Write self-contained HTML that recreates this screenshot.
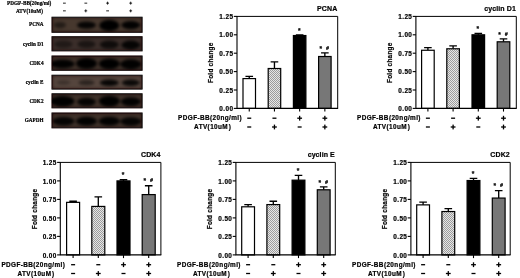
<!DOCTYPE html><html><head><meta charset="utf-8"><title>Figure</title><style>html,body{margin:0;padding:0;background:#fff}svg{display:block}text{font-family:"Liberation Sans",sans-serif;font-weight:bold;fill:#000;stroke:#000;stroke-width:0.2px}.s{font-family:"Liberation Serif",serif;font-weight:bold}</style></head><body>
<svg width="520" height="278" viewBox="0 0 520 278">
<defs>
<filter id="b1" x="-30%" y="-30%" width="160%" height="160%"><feGaussianBlur stdDeviation="1.6"/></filter>
<filter id="b2" x="-5%" y="-5%" width="110%" height="110%"><feGaussianBlur stdDeviation="0.35"/></filter>
<filter id="b3" x="-5%" y="-5%" width="110%" height="110%"><feGaussianBlur stdDeviation="0.28"/></filter>
<pattern id="hat" width="2" height="2" patternUnits="userSpaceOnUse"><rect width="2" height="2" fill="#e6e6e6"/><rect width="1" height="1" fill="#9c9c9c"/><rect x="1" y="1" width="1" height="1" fill="#9c9c9c"/></pattern>
</defs>
<rect width="520" height="278" fill="#fff"/>
<g filter="url(#b2)">
<rect x="52.0" y="17.2" width="90.1" height="15.1" fill="#46382f" stroke="#120c0b" stroke-width="1"/>
<rect x="52.0" y="36.7" width="90.1" height="14.2" fill="#3a2d2a" stroke="#120c0b" stroke-width="1"/>
<rect x="52.0" y="56.0" width="90.1" height="14.3" fill="#3f312c" stroke="#120c0b" stroke-width="1"/>
<rect x="52.0" y="75.2" width="90.1" height="13.9" fill="#54443d" stroke="#120c0b" stroke-width="1"/>
<rect x="52.0" y="93.8" width="90.1" height="14.1" fill="#3f312c" stroke="#120c0b" stroke-width="1"/>
<rect x="52.0" y="113.0" width="90.1" height="14.9" fill="#3f312c" stroke="#120c0b" stroke-width="1"/>
</g>
<clipPath id="c0"><rect x="51.8" y="17.0" width="90.5" height="15.5"/></clipPath>
<g clip-path="url(#c0)"><g filter="url(#b1)">
<rect x="48.5" y="13.7" width="97.1" height="22.1" fill="none" stroke="#1a1110" stroke-width="8" opacity="0.75"/>
<ellipse cx="60.0" cy="25.1" rx="6" ry="3.2" fill="#050303" opacity="0.5"/>
<ellipse cx="86.5" cy="25.1" rx="9.5" ry="3.6" fill="#050303" opacity="0.92"/>
<ellipse cx="109.3" cy="25.4" rx="10" ry="5.6" fill="#050303" opacity="1"/>
<ellipse cx="130.8" cy="25.1" rx="9.5" ry="4.2" fill="#050303" opacity="0.97"/>
</g></g>
<clipPath id="c1"><rect x="51.8" y="36.5" width="90.5" height="14.6"/></clipPath>
<g clip-path="url(#c1)"><g filter="url(#b1)">
<rect x="48.5" y="33.2" width="97.1" height="21.2" fill="none" stroke="#1a1110" stroke-width="8" opacity="0.75"/>
<ellipse cx="63.5" cy="44.3" rx="9" ry="3.8" fill="#050303" opacity="0.45"/>
<ellipse cx="86.5" cy="44.3" rx="9" ry="3.8" fill="#050303" opacity="0.55"/>
<ellipse cx="109.3" cy="44.6" rx="9.5" ry="4" fill="#050303" opacity="0.75"/>
<ellipse cx="130.8" cy="45.0" rx="9.5" ry="4.4" fill="#050303" opacity="0.9"/>
</g></g>
<clipPath id="c2"><rect x="51.8" y="55.8" width="90.5" height="14.7"/></clipPath>
<g clip-path="url(#c2)"><g filter="url(#b1)">
<rect x="48.5" y="52.5" width="97.1" height="21.3" fill="none" stroke="#1a1110" stroke-width="8" opacity="0.75"/>
<ellipse cx="62.5" cy="63.9" rx="12" ry="4.4" fill="#050303" opacity="0.97"/>
<ellipse cx="86.5" cy="63.4" rx="10.5" ry="5.4" fill="#050303" opacity="1"/>
<ellipse cx="109.3" cy="63.8" rx="10.5" ry="5.2" fill="#050303" opacity="1"/>
<ellipse cx="130.8" cy="64.2" rx="10.5" ry="5" fill="#050303" opacity="0.97"/>
</g></g>
<clipPath id="c3"><rect x="51.8" y="75.0" width="90.5" height="14.3"/></clipPath>
<g clip-path="url(#c3)"><g filter="url(#b1)">
<rect x="48.5" y="71.7" width="97.1" height="20.9" fill="none" stroke="#1a1110" stroke-width="8" opacity="0.75"/>
<ellipse cx="63.5" cy="82.5" rx="7" ry="2.2" fill="#050303" opacity="0.3"/>
<ellipse cx="86.5" cy="82.7" rx="8" ry="2.6" fill="#050303" opacity="0.5"/>
<ellipse cx="109.3" cy="82.7" rx="9.5" ry="3.2" fill="#050303" opacity="0.92"/>
<ellipse cx="130.8" cy="82.7" rx="9" ry="3.2" fill="#050303" opacity="0.88"/>
</g></g>
<clipPath id="c4"><rect x="51.8" y="93.6" width="90.5" height="14.5"/></clipPath>
<g clip-path="url(#c4)"><g filter="url(#b1)">
<rect x="48.5" y="90.3" width="97.1" height="21.1" fill="none" stroke="#1a1110" stroke-width="8" opacity="0.75"/>
<ellipse cx="62.5" cy="101.3" rx="12" ry="5.2" fill="#050303" opacity="1"/>
<ellipse cx="86.5" cy="101.8" rx="9.5" ry="4" fill="#050303" opacity="0.92"/>
<ellipse cx="109.3" cy="101.1" rx="10.5" ry="5.4" fill="#050303" opacity="1"/>
<ellipse cx="130.8" cy="101.6" rx="10" ry="4.4" fill="#050303" opacity="0.97"/>
</g></g>
<clipPath id="c5"><rect x="51.8" y="112.8" width="90.5" height="15.3"/></clipPath>
<g clip-path="url(#c5)"><g filter="url(#b1)">
<rect x="48.5" y="109.5" width="97.1" height="21.9" fill="none" stroke="#1a1110" stroke-width="8" opacity="0.75"/>
<ellipse cx="63.5" cy="121.2" rx="11" ry="4.2" fill="#050303" opacity="0.92"/>
<ellipse cx="86.5" cy="121.2" rx="10.5" ry="4.4" fill="#050303" opacity="0.97"/>
<ellipse cx="109.3" cy="121.2" rx="10.5" ry="4.4" fill="#050303" opacity="0.97"/>
<ellipse cx="130.8" cy="121.5" rx="10.5" ry="4.2" fill="#050303" opacity="0.92"/>
</g></g>
<g filter="url(#b3)" style="stroke:#000;stroke-width:0.5">
<text class="s" x="43.5" y="26.4" font-size="5.2" text-anchor="end">PCNA</text>
<text class="s" x="43.5" y="45.5" font-size="5.2" text-anchor="end">cyclin D1</text>
<text class="s" x="43.5" y="64.8" font-size="5.2" text-anchor="end">CDK4</text>
<text class="s" x="43.5" y="83.9" font-size="5.2" text-anchor="end">cyclin E</text>
<text class="s" x="43.5" y="102.5" font-size="5.2" text-anchor="end">CDK2</text>
<text class="s" x="43.5" y="122.2" font-size="5.2" text-anchor="end">GAPDH</text>
<text class="s" x="51.2" y="4.7" font-size="5.2" text-anchor="end">PDGF-BB(20ng/ml)</text>
<text class="s" x="42.9" y="12.9" font-size="5.2" text-anchor="end">ATV(10uM)</text>
<rect x="63.00000000000001" y="2.7" width="2.8" height="0.9" fill="#111" stroke="none"/>
<rect x="63.00000000000001" y="10.4" width="2.8" height="0.9" fill="#111" stroke="none"/>
<rect x="84.39999999999999" y="2.7" width="2.8" height="0.9" fill="#111" stroke="none"/>
<rect x="84.39999999999999" y="10.4" width="2.8" height="0.9" fill="#111" stroke="none"/>
<rect x="85.35" y="9.4" width="0.9" height="2.9" fill="#111" stroke="none"/>
<rect x="106.19999999999999" y="2.7" width="2.8" height="0.9" fill="#111" stroke="none"/>
<rect x="107.14999999999999" y="1.7000000000000002" width="0.9" height="2.9" fill="#111" stroke="none"/>
<rect x="106.19999999999999" y="10.4" width="2.8" height="0.9" fill="#111" stroke="none"/>
<rect x="129.29999999999998" y="2.7" width="2.8" height="0.9" fill="#111" stroke="none"/>
<rect x="130.25" y="1.7000000000000002" width="0.9" height="2.9" fill="#111" stroke="none"/>
<rect x="129.29999999999998" y="10.4" width="2.8" height="0.9" fill="#111" stroke="none"/>
<rect x="130.25" y="9.4" width="0.9" height="2.9" fill="#111" stroke="none"/>
</g>
<path d="M237,16.4 H337.7 V108.4" fill="none" stroke="#000" stroke-width="1"/>
<path d="M249.25,78.59 V76.38 M245.45,76.38 H253.05" stroke="#000" stroke-width="1.35" fill="none"/>
<rect x="243.00" y="78.59" width="12.5" height="29.81" fill="#fff" stroke="#000" stroke-width="1.2"/>
<path d="M249.25,108.4 v3.2" stroke="#000" stroke-width="1.1"/>
<path d="M274.45,68.51 V61.88 M270.65,61.88 H278.25" stroke="#000" stroke-width="1.35" fill="none"/>
<rect x="268.20" y="68.51" width="12.5" height="39.89" fill="url(#hat)" stroke="#000" stroke-width="1.2"/>
<path d="M274.45,108.4 v3.2" stroke="#000" stroke-width="1.1"/>
<path d="M299.65,35.54 V34.95 M295.85,34.95 H303.45" stroke="#000" stroke-width="1.35" fill="none"/>
<rect x="293.40" y="35.54" width="12.5" height="72.86" fill="#000" stroke="#000" stroke-width="1.2"/>
<path d="M299.65,108.4 v3.2" stroke="#000" stroke-width="1.1"/>
<path d="M324.85,56.51 V52.83 M321.05,52.83 H328.65" stroke="#000" stroke-width="1.35" fill="none"/>
<rect x="318.60" y="56.51" width="12.5" height="51.89" fill="#777" stroke="#000" stroke-width="1.2"/>
<path d="M324.85,108.4 v3.2" stroke="#000" stroke-width="1.1"/>
<path d="M237,15.999999999999998 V108.4 M236.6,108.4 H338.09999999999997" fill="none" stroke="#000" stroke-width="1.1"/>
<path d="M233.8,108.40 H237" stroke="#000" stroke-width="1.1"/>
<text transform="translate(233.40,111.00)" font-size="6.4" text-anchor="end" letter-spacing="0.4" >0.00</text>
<path d="M233.8,90.00 H237" stroke="#000" stroke-width="1.1"/>
<text transform="translate(233.40,92.60)" font-size="6.4" text-anchor="end" letter-spacing="0.4" >0.25</text>
<path d="M233.8,71.60 H237" stroke="#000" stroke-width="1.1"/>
<text transform="translate(233.40,74.20)" font-size="6.4" text-anchor="end" letter-spacing="0.4" >0.50</text>
<path d="M233.8,53.20 H237" stroke="#000" stroke-width="1.1"/>
<text transform="translate(233.40,55.80)" font-size="6.4" text-anchor="end" letter-spacing="0.4" >0.75</text>
<path d="M233.8,34.80 H237" stroke="#000" stroke-width="1.1"/>
<text transform="translate(233.40,37.40)" font-size="6.4" text-anchor="end" letter-spacing="0.4" >1.00</text>
<path d="M233.8,16.40 H237" stroke="#000" stroke-width="1.1"/>
<text transform="translate(233.40,19.00)" font-size="6.4" text-anchor="end" letter-spacing="0.4" >1.25</text>
<text transform="translate(213.2,62.7) rotate(-90)" font-size="6.4" letter-spacing="0.27" text-anchor="middle">Fold change</text>
<text transform="translate(337.30,11.00)" font-size="7.0" text-anchor="end" letter-spacing="0.1" >PCNA</text>
<text transform="translate(299.25,32.55)" font-size="6.6" text-anchor="middle" letter-spacing="0" >*</text>
<text transform="translate(320.85,50.53)" font-size="6.6" text-anchor="middle" letter-spacing="0" >*</text>
<text transform="translate(327.55,49.53)" font-size="5.2" text-anchor="middle" letter-spacing="0" font-style="italic">#</text>
<text transform="translate(242.00,120.00)" font-size="6.4" text-anchor="end" letter-spacing="0.4" >PDGF-BB(20ng/ml)</text>
<text transform="translate(231.30,129.00)" font-size="6.4" text-anchor="end" letter-spacing="0.4" >ATV(10uM<tspan dx="0.7">)</tspan></text>
<rect x="247.25" y="117.55" width="4.0" height="1.3" fill="#000"/>
<rect x="247.25" y="126.35" width="4.0" height="1.3" fill="#000"/>
<rect x="272.45" y="117.55" width="4.0" height="1.3" fill="#000"/>
<rect x="272.05" y="126.35" width="4.8" height="1.3" fill="#000"/>
<rect x="273.80" y="124.60" width="1.3" height="4.8" fill="#000"/>
<rect x="297.25" y="117.55" width="4.8" height="1.3" fill="#000"/>
<rect x="299.00" y="115.80" width="1.3" height="4.8" fill="#000"/>
<rect x="297.65" y="126.35" width="4.0" height="1.3" fill="#000"/>
<rect x="322.45" y="117.55" width="4.8" height="1.3" fill="#000"/>
<rect x="324.20" y="115.80" width="1.3" height="4.8" fill="#000"/>
<rect x="322.45" y="126.35" width="4.8" height="1.3" fill="#000"/>
<rect x="324.20" y="124.60" width="1.3" height="4.8" fill="#000"/>
<path d="M415.9,16.4 H516.3 V108.4" fill="none" stroke="#000" stroke-width="1"/>
<path d="M427.90,50.26 V47.68 M424.10,47.68 H431.70" stroke="#000" stroke-width="1.35" fill="none"/>
<rect x="421.60" y="50.26" width="12.6" height="58.14" fill="#fff" stroke="#000" stroke-width="1.2"/>
<path d="M427.90,108.4 v3.2" stroke="#000" stroke-width="1.1"/>
<path d="M453.10,48.78 V45.84 M449.30,45.84 H456.90" stroke="#000" stroke-width="1.35" fill="none"/>
<rect x="446.80" y="48.78" width="12.6" height="59.62" fill="url(#hat)" stroke="#000" stroke-width="1.2"/>
<path d="M453.10,108.4 v3.2" stroke="#000" stroke-width="1.1"/>
<path d="M478.30,34.80 V33.33 M474.50,33.33 H482.10" stroke="#000" stroke-width="1.35" fill="none"/>
<rect x="472.00" y="34.80" width="12.6" height="73.60" fill="#000" stroke="#000" stroke-width="1.2"/>
<path d="M478.30,108.4 v3.2" stroke="#000" stroke-width="1.1"/>
<path d="M503.50,41.79 V38.85 M499.70,38.85 H507.30" stroke="#000" stroke-width="1.35" fill="none"/>
<rect x="497.20" y="41.79" width="12.6" height="66.61" fill="#777" stroke="#000" stroke-width="1.2"/>
<path d="M503.50,108.4 v3.2" stroke="#000" stroke-width="1.1"/>
<path d="M415.9,15.999999999999998 V108.4 M415.5,108.4 H516.6999999999999" fill="none" stroke="#000" stroke-width="1.1"/>
<path d="M412.7,108.40 H415.9" stroke="#000" stroke-width="1.1"/>
<text transform="translate(412.30,111.00)" font-size="6.4" text-anchor="end" letter-spacing="0.4" >0.00</text>
<path d="M412.7,90.00 H415.9" stroke="#000" stroke-width="1.1"/>
<text transform="translate(412.30,92.60)" font-size="6.4" text-anchor="end" letter-spacing="0.4" >0.25</text>
<path d="M412.7,71.60 H415.9" stroke="#000" stroke-width="1.1"/>
<text transform="translate(412.30,74.20)" font-size="6.4" text-anchor="end" letter-spacing="0.4" >0.50</text>
<path d="M412.7,53.20 H415.9" stroke="#000" stroke-width="1.1"/>
<text transform="translate(412.30,55.80)" font-size="6.4" text-anchor="end" letter-spacing="0.4" >0.75</text>
<path d="M412.7,34.80 H415.9" stroke="#000" stroke-width="1.1"/>
<text transform="translate(412.30,37.40)" font-size="6.4" text-anchor="end" letter-spacing="0.4" >1.00</text>
<path d="M412.7,16.40 H415.9" stroke="#000" stroke-width="1.1"/>
<text transform="translate(412.30,19.00)" font-size="6.4" text-anchor="end" letter-spacing="0.4" >1.25</text>
<text transform="translate(392.1,62.7) rotate(-90)" font-size="6.4" letter-spacing="0.27" text-anchor="middle">Fold change</text>
<text transform="translate(515.90,11.00)" font-size="7.0" text-anchor="end" letter-spacing="0.1" >cyclin D1</text>
<text transform="translate(477.90,30.93)" font-size="6.6" text-anchor="middle" letter-spacing="0" >*</text>
<text transform="translate(499.50,36.55)" font-size="6.6" text-anchor="middle" letter-spacing="0" >*</text>
<text transform="translate(506.20,35.55)" font-size="5.2" text-anchor="middle" letter-spacing="0" font-style="italic">#</text>
<text transform="translate(420.90,120.00)" font-size="6.4" text-anchor="end" letter-spacing="0.4" >PDGF-BB(20ng/ml)</text>
<text transform="translate(410.20,129.00)" font-size="6.4" text-anchor="end" letter-spacing="0.4" >ATV(10uM<tspan dx="0.7">)</tspan></text>
<rect x="425.90" y="117.55" width="4.0" height="1.3" fill="#000"/>
<rect x="425.90" y="126.35" width="4.0" height="1.3" fill="#000"/>
<rect x="451.10" y="117.55" width="4.0" height="1.3" fill="#000"/>
<rect x="450.70" y="126.35" width="4.8" height="1.3" fill="#000"/>
<rect x="452.45" y="124.60" width="1.3" height="4.8" fill="#000"/>
<rect x="475.90" y="117.55" width="4.8" height="1.3" fill="#000"/>
<rect x="477.65" y="115.80" width="1.3" height="4.8" fill="#000"/>
<rect x="476.30" y="126.35" width="4.0" height="1.3" fill="#000"/>
<rect x="501.10" y="117.55" width="4.8" height="1.3" fill="#000"/>
<rect x="502.85" y="115.80" width="1.3" height="4.8" fill="#000"/>
<rect x="501.10" y="126.35" width="4.8" height="1.3" fill="#000"/>
<rect x="502.85" y="124.60" width="1.3" height="4.8" fill="#000"/>
<path d="M60.3,162.4 H160.89999999999998 V254.9" fill="none" stroke="#000" stroke-width="1"/>
<path d="M73.10,202.36 V201.25 M69.30,201.25 H76.90" stroke="#000" stroke-width="1.35" fill="none"/>
<rect x="66.60" y="202.36" width="13" height="52.54" fill="#fff" stroke="#000" stroke-width="1.2"/>
<path d="M73.10,254.9 v3.2" stroke="#000" stroke-width="1.1"/>
<path d="M98.30,206.43 V196.81 M94.50,196.81 H102.10" stroke="#000" stroke-width="1.35" fill="none"/>
<rect x="91.80" y="206.43" width="13" height="48.47" fill="url(#hat)" stroke="#000" stroke-width="1.2"/>
<path d="M98.30,254.9 v3.2" stroke="#000" stroke-width="1.1"/>
<path d="M123.50,180.90 V179.79 M119.70,179.79 H127.30" stroke="#000" stroke-width="1.35" fill="none"/>
<rect x="117.00" y="180.90" width="13" height="74.00" fill="#000" stroke="#000" stroke-width="1.2"/>
<path d="M123.50,254.9 v3.2" stroke="#000" stroke-width="1.1"/>
<path d="M148.70,194.59 V185.71 M144.90,185.71 H152.50" stroke="#000" stroke-width="1.35" fill="none"/>
<rect x="142.20" y="194.59" width="13" height="60.31" fill="#777" stroke="#000" stroke-width="1.2"/>
<path d="M148.70,254.9 v3.2" stroke="#000" stroke-width="1.1"/>
<path d="M60.3,162.0 V254.9 M59.9,254.9 H161.29999999999998" fill="none" stroke="#000" stroke-width="1.1"/>
<path d="M57.099999999999994,254.90 H60.3" stroke="#000" stroke-width="1.1"/>
<text transform="translate(56.70,257.50)" font-size="6.4" text-anchor="end" letter-spacing="0.4" >0.00</text>
<path d="M57.099999999999994,236.40 H60.3" stroke="#000" stroke-width="1.1"/>
<text transform="translate(56.70,239.00)" font-size="6.4" text-anchor="end" letter-spacing="0.4" >0.25</text>
<path d="M57.099999999999994,217.90 H60.3" stroke="#000" stroke-width="1.1"/>
<text transform="translate(56.70,220.50)" font-size="6.4" text-anchor="end" letter-spacing="0.4" >0.50</text>
<path d="M57.099999999999994,199.40 H60.3" stroke="#000" stroke-width="1.1"/>
<text transform="translate(56.70,202.00)" font-size="6.4" text-anchor="end" letter-spacing="0.4" >0.75</text>
<path d="M57.099999999999994,180.90 H60.3" stroke="#000" stroke-width="1.1"/>
<text transform="translate(56.70,183.50)" font-size="6.4" text-anchor="end" letter-spacing="0.4" >1.00</text>
<path d="M57.099999999999994,162.40 H60.3" stroke="#000" stroke-width="1.1"/>
<text transform="translate(56.70,165.00)" font-size="6.4" text-anchor="end" letter-spacing="0.4" >1.25</text>
<text transform="translate(36.5,209.0) rotate(-90)" font-size="6.4" letter-spacing="0.27" text-anchor="middle">Fold change</text>
<text transform="translate(160.50,157.00)" font-size="7.0" text-anchor="end" letter-spacing="0.1" >CDK4</text>
<text transform="translate(123.10,177.39)" font-size="6.6" text-anchor="middle" letter-spacing="0" >*</text>
<text transform="translate(144.70,183.41)" font-size="6.6" text-anchor="middle" letter-spacing="0" >*</text>
<text transform="translate(151.40,182.41)" font-size="5.2" text-anchor="middle" letter-spacing="0" font-style="italic">#</text>
<text transform="translate(65.30,266.50)" font-size="6.4" text-anchor="end" letter-spacing="0.4" >PDGF-BB(20ng/ml)</text>
<text transform="translate(54.60,275.50)" font-size="6.4" text-anchor="end" letter-spacing="0.4" >ATV(10uM<tspan dx="0.7">)</tspan></text>
<rect x="71.10" y="264.05" width="4.0" height="1.3" fill="#000"/>
<rect x="71.10" y="272.85" width="4.0" height="1.3" fill="#000"/>
<rect x="96.30" y="264.05" width="4.0" height="1.3" fill="#000"/>
<rect x="95.90" y="272.85" width="4.8" height="1.3" fill="#000"/>
<rect x="97.65" y="271.10" width="1.3" height="4.8" fill="#000"/>
<rect x="121.10" y="264.05" width="4.8" height="1.3" fill="#000"/>
<rect x="122.85" y="262.30" width="1.3" height="4.8" fill="#000"/>
<rect x="121.50" y="272.85" width="4.0" height="1.3" fill="#000"/>
<rect x="146.30" y="264.05" width="4.8" height="1.3" fill="#000"/>
<rect x="148.05" y="262.30" width="1.3" height="4.8" fill="#000"/>
<rect x="146.30" y="272.85" width="4.8" height="1.3" fill="#000"/>
<rect x="148.05" y="271.10" width="1.3" height="4.8" fill="#000"/>
<path d="M235.9,162.4 H335.3 V254.9" fill="none" stroke="#000" stroke-width="1"/>
<path d="M248.10,206.80 V204.58 M244.30,204.58 H251.90" stroke="#000" stroke-width="1.35" fill="none"/>
<rect x="241.70" y="206.80" width="12.8" height="48.10" fill="#fff" stroke="#000" stroke-width="1.2"/>
<path d="M248.10,254.9 v3.2" stroke="#000" stroke-width="1.1"/>
<path d="M273.30,204.58 V201.25 M269.50,201.25 H277.10" stroke="#000" stroke-width="1.35" fill="none"/>
<rect x="266.90" y="204.58" width="12.8" height="50.32" fill="url(#hat)" stroke="#000" stroke-width="1.2"/>
<path d="M273.30,254.9 v3.2" stroke="#000" stroke-width="1.1"/>
<path d="M298.50,180.16 V175.35 M294.70,175.35 H302.30" stroke="#000" stroke-width="1.35" fill="none"/>
<rect x="292.10" y="180.16" width="12.8" height="74.74" fill="#000" stroke="#000" stroke-width="1.2"/>
<path d="M298.50,254.9 v3.2" stroke="#000" stroke-width="1.1"/>
<path d="M323.70,189.78 V186.82 M319.90,186.82 H327.50" stroke="#000" stroke-width="1.35" fill="none"/>
<rect x="317.30" y="189.78" width="12.8" height="65.12" fill="#777" stroke="#000" stroke-width="1.2"/>
<path d="M323.70,254.9 v3.2" stroke="#000" stroke-width="1.1"/>
<path d="M235.9,162.0 V254.9 M235.5,254.9 H335.7" fill="none" stroke="#000" stroke-width="1.1"/>
<path d="M232.70000000000002,254.90 H235.9" stroke="#000" stroke-width="1.1"/>
<text transform="translate(232.30,257.50)" font-size="6.4" text-anchor="end" letter-spacing="0.4" >0.00</text>
<path d="M232.70000000000002,236.40 H235.9" stroke="#000" stroke-width="1.1"/>
<text transform="translate(232.30,239.00)" font-size="6.4" text-anchor="end" letter-spacing="0.4" >0.25</text>
<path d="M232.70000000000002,217.90 H235.9" stroke="#000" stroke-width="1.1"/>
<text transform="translate(232.30,220.50)" font-size="6.4" text-anchor="end" letter-spacing="0.4" >0.50</text>
<path d="M232.70000000000002,199.40 H235.9" stroke="#000" stroke-width="1.1"/>
<text transform="translate(232.30,202.00)" font-size="6.4" text-anchor="end" letter-spacing="0.4" >0.75</text>
<path d="M232.70000000000002,180.90 H235.9" stroke="#000" stroke-width="1.1"/>
<text transform="translate(232.30,183.50)" font-size="6.4" text-anchor="end" letter-spacing="0.4" >1.00</text>
<path d="M232.70000000000002,162.40 H235.9" stroke="#000" stroke-width="1.1"/>
<text transform="translate(232.30,165.00)" font-size="6.4" text-anchor="end" letter-spacing="0.4" >1.25</text>
<text transform="translate(212.1,209.0) rotate(-90)" font-size="6.4" letter-spacing="0.27" text-anchor="middle">Fold change</text>
<text transform="translate(334.90,157.00)" font-size="7.0" text-anchor="end" letter-spacing="0.1" >cyclin E</text>
<text transform="translate(298.10,172.95)" font-size="6.6" text-anchor="middle" letter-spacing="0" >*</text>
<text transform="translate(319.70,184.52)" font-size="6.6" text-anchor="middle" letter-spacing="0" >*</text>
<text transform="translate(326.40,183.52)" font-size="5.2" text-anchor="middle" letter-spacing="0" font-style="italic">#</text>
<text transform="translate(240.90,266.50)" font-size="6.4" text-anchor="end" letter-spacing="0.4" >PDGF-BB(20ng/ml)</text>
<text transform="translate(230.20,275.50)" font-size="6.4" text-anchor="end" letter-spacing="0.4" >ATV(10uM<tspan dx="0.7">)</tspan></text>
<rect x="246.10" y="264.05" width="4.0" height="1.3" fill="#000"/>
<rect x="246.10" y="272.85" width="4.0" height="1.3" fill="#000"/>
<rect x="271.30" y="264.05" width="4.0" height="1.3" fill="#000"/>
<rect x="270.90" y="272.85" width="4.8" height="1.3" fill="#000"/>
<rect x="272.65" y="271.10" width="1.3" height="4.8" fill="#000"/>
<rect x="296.10" y="264.05" width="4.8" height="1.3" fill="#000"/>
<rect x="297.85" y="262.30" width="1.3" height="4.8" fill="#000"/>
<rect x="296.50" y="272.85" width="4.0" height="1.3" fill="#000"/>
<rect x="321.30" y="264.05" width="4.8" height="1.3" fill="#000"/>
<rect x="323.05" y="262.30" width="1.3" height="4.8" fill="#000"/>
<rect x="321.30" y="272.85" width="4.8" height="1.3" fill="#000"/>
<rect x="323.05" y="271.10" width="1.3" height="4.8" fill="#000"/>
<path d="M410.9,162.4 H510.2 V254.9" fill="none" stroke="#000" stroke-width="1"/>
<path d="M423.10,204.88 V202.06 M419.30,202.06 H426.90" stroke="#000" stroke-width="1.35" fill="none"/>
<rect x="416.70" y="204.88" width="12.8" height="50.02" fill="#fff" stroke="#000" stroke-width="1.2"/>
<path d="M423.10,254.9 v3.2" stroke="#000" stroke-width="1.1"/>
<path d="M448.30,211.54 V208.58 M444.50,208.58 H452.10" stroke="#000" stroke-width="1.35" fill="none"/>
<rect x="441.90" y="211.54" width="12.8" height="43.36" fill="url(#hat)" stroke="#000" stroke-width="1.2"/>
<path d="M448.30,254.9 v3.2" stroke="#000" stroke-width="1.1"/>
<path d="M473.50,180.53 V178.31 M469.70,178.31 H477.30" stroke="#000" stroke-width="1.35" fill="none"/>
<rect x="467.10" y="180.53" width="12.8" height="74.37" fill="#000" stroke="#000" stroke-width="1.2"/>
<path d="M473.50,254.9 v3.2" stroke="#000" stroke-width="1.1"/>
<path d="M498.70,198.07 V190.67 M494.90,190.67 H502.50" stroke="#000" stroke-width="1.35" fill="none"/>
<rect x="492.30" y="198.07" width="12.8" height="56.83" fill="#777" stroke="#000" stroke-width="1.2"/>
<path d="M498.70,254.9 v3.2" stroke="#000" stroke-width="1.1"/>
<path d="M410.9,162.0 V254.9 M410.5,254.9 H510.59999999999997" fill="none" stroke="#000" stroke-width="1.1"/>
<path d="M407.7,254.90 H410.9" stroke="#000" stroke-width="1.1"/>
<text transform="translate(407.30,257.50)" font-size="6.4" text-anchor="end" letter-spacing="0.4" >0.00</text>
<path d="M407.7,236.40 H410.9" stroke="#000" stroke-width="1.1"/>
<text transform="translate(407.30,239.00)" font-size="6.4" text-anchor="end" letter-spacing="0.4" >0.25</text>
<path d="M407.7,217.90 H410.9" stroke="#000" stroke-width="1.1"/>
<text transform="translate(407.30,220.50)" font-size="6.4" text-anchor="end" letter-spacing="0.4" >0.50</text>
<path d="M407.7,199.40 H410.9" stroke="#000" stroke-width="1.1"/>
<text transform="translate(407.30,202.00)" font-size="6.4" text-anchor="end" letter-spacing="0.4" >0.75</text>
<path d="M407.7,180.90 H410.9" stroke="#000" stroke-width="1.1"/>
<text transform="translate(407.30,183.50)" font-size="6.4" text-anchor="end" letter-spacing="0.4" >1.00</text>
<path d="M407.7,162.40 H410.9" stroke="#000" stroke-width="1.1"/>
<text transform="translate(407.30,165.00)" font-size="6.4" text-anchor="end" letter-spacing="0.4" >1.25</text>
<text transform="translate(387.1,209.0) rotate(-90)" font-size="6.4" letter-spacing="0.27" text-anchor="middle">Fold change</text>
<text transform="translate(509.80,157.00)" font-size="7.0" text-anchor="end" letter-spacing="0.1" >CDK2</text>
<text transform="translate(473.10,175.91)" font-size="6.6" text-anchor="middle" letter-spacing="0" >*</text>
<text transform="translate(494.70,188.37)" font-size="6.6" text-anchor="middle" letter-spacing="0" >*</text>
<text transform="translate(501.40,187.37)" font-size="5.2" text-anchor="middle" letter-spacing="0" font-style="italic">#</text>
<text transform="translate(415.90,266.50)" font-size="6.4" text-anchor="end" letter-spacing="0.4" >PDGF-BB(20ng/ml)</text>
<text transform="translate(405.20,275.50)" font-size="6.4" text-anchor="end" letter-spacing="0.4" >ATV(10uM<tspan dx="0.7">)</tspan></text>
<rect x="421.10" y="264.05" width="4.0" height="1.3" fill="#000"/>
<rect x="421.10" y="272.85" width="4.0" height="1.3" fill="#000"/>
<rect x="446.30" y="264.05" width="4.0" height="1.3" fill="#000"/>
<rect x="445.90" y="272.85" width="4.8" height="1.3" fill="#000"/>
<rect x="447.65" y="271.10" width="1.3" height="4.8" fill="#000"/>
<rect x="471.10" y="264.05" width="4.8" height="1.3" fill="#000"/>
<rect x="472.85" y="262.30" width="1.3" height="4.8" fill="#000"/>
<rect x="471.50" y="272.85" width="4.0" height="1.3" fill="#000"/>
<rect x="496.30" y="264.05" width="4.8" height="1.3" fill="#000"/>
<rect x="498.05" y="262.30" width="1.3" height="4.8" fill="#000"/>
<rect x="496.30" y="272.85" width="4.8" height="1.3" fill="#000"/>
<rect x="498.05" y="271.10" width="1.3" height="4.8" fill="#000"/>
</svg></body></html>
